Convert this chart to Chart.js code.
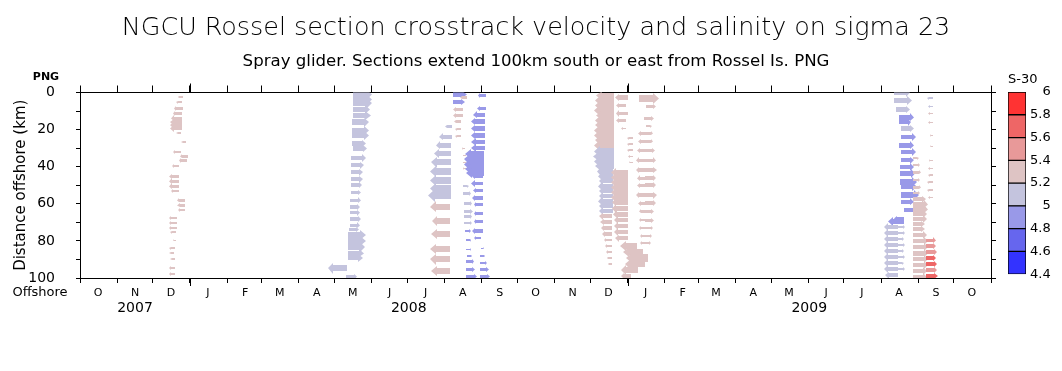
<!DOCTYPE html>
<html><head><meta charset="utf-8">
<script src="https://cdn.jsdelivr.net/npm/chart.js@4.4.1/dist/chart.umd.min.js"></script>
<style>
html,body{margin:0;padding:0;background:#fff;}
#wrap{position:relative;width:1062px;height:371px;overflow:hidden;}
#main{position:absolute;left:0;top:0;}
#cbar{position:absolute;left:1000px;top:66px;}
</style></head><body>
<div id="wrap"><canvas id="main" width="1062" height="371"></canvas><canvas id="cbar" width="62" height="220"></canvas></div>
<script>
// ---------------- DATA ----------------
// time axis: days since 2007-10-01 ; distance offshore in km ; crosstrack velocity in cm/s ; salinity as S-30
const TITLE = 'NGCU Rossel section crosstrack velocity and salinity on sigma 23';
const SUBTITLE = 'Spray glider. Sections extend 100km south or east from Rossel Is. PNG';
const Y_TITLE = 'Distance offshore (km)';
const Y_TOP_LABEL = 'PNG';
const Y_BOTTOM_LABEL = 'Offshore';
const CBAR_TITLE = 'S-30';
const MONTH_LABELS = ['O','N','D','J','F','M','A','M','J','J','A','S','O','N','D','J','F','M','A','M','J','J','A','S','O'];
const YEAR_LABELS = ['2007','2008','2009'];
const Y_TICKS = [0,10,20,30,40,50,60,70,80,90,100];
const CBAR_BOUNDS = [4.4,4.6,4.8,5.0,5.2,5.4,5.6,5.8,6.0];
const CBAR_COLORS = ['#3333ff','#6666ee','#9999e8','#c4c4de','#dec4c4','#e89999','#ee6666','#ff3333'];

// rows: [distance km, day, velocity cm/s (+ right / - left), S-30]
const sec2007Dec = [
 [2.5,85.9,-5,5.3],[5.2,85.3,-6,5.3],[8.4,85.9,-9,5.3],[11.3,85.1,-9,5.3],[14.0,85.1,-11,5.3],
 [16.1,85.3,-12,5.3],[17.7,85.3,-12,5.3],[19.4,85.3,-12,5.3],[21.9,84.5,-5,5.3],[26.7,88.7,-5,5.3],
 [32.1,84.5,-8,5.3],[34.4,90.1,-8,5.3],[36.6,89.5,-8,5.3],[39.8,83.1,-7,5.3],[45.2,82.8,-10,5.3],
 [47.8,82.8,-10,5.3],[50.5,82.8,-10,5.3],[53.2,82.8,-8,5.3],[58.1,87.8,-8,5.3],[60.8,88.1,-8,5.3],
 [63.4,87.8,-7,5.3],[67.7,81.1,-8,5.3],[70.4,81.1,-8,5.3],[73.1,81.1,-8,5.3],[75.3,80.3,-6,5.3],
 [79.6,80.3,-3,5.3],[83.9,79.5,-6,5.3],[86.6,78.9,-5,5.3],[89.8,79.5,-5,5.3],[94.6,79.5,-6,5.3],[97.8,79.5,-6,5.3]
];
const sec2008May = [
 [1.1,228.1,19,5.1],[3.8,228.1,19,5.1],[5.9,228.1,19,5.1],[9.1,228.1,17,5.1],[12.4,228.1,18,5.1],
 [16.0,227.3,17,5.1],[20.4,227.3,17,5.1],[23.1,227.3,17,5.1],[27.4,227.5,14,5.1],[30.1,228.1,14,5.1],
 [35.3,226.7,15,5.1],[39.2,226.7,13,5.1],[43.0,226.7,12,5.1],[46.8,226.7,12,5.1],[50.0,226.7,11,5.1],
 [53.8,226.7,10,5.1],[58.1,226.1,11,5.1],[61.7,226.1,10,5.1],[64.9,226.1,10,5.1],[68.3,226.1,11,5.1],
 [71.5,226.1,10,5.1],[73.7,225.0,10,5.1],[76.9,223.9,18,5.1],[80.1,223.9,18,5.1],[83.3,223.9,17,5.1],
 [86.6,223.9,16,5.1],[89.2,223.9,15,5.1],[94.8,223.0,-19,5.1],[99.3,222.5,11,5.1]
];
const sec2008Jul = [
 [18.3,310.8,-7,5.1],[23.9,310.8,-12.5,5.1],[28.5,310.3,-15,5.1],[32.8,310.3,-17,5.1],[37.6,310.3,-20,5.1],
 [42.5,310.3,-21,5.1],[47.6,310.3,-21,5.1],[51.6,310.3,-21,5.1],[55.4,310.3,-23,5.1],[61.6,309.5,-20,5.3],
 [69.1,309.5,-18,5.3],[76.3,309.5,-19,5.3],[84.4,309.5,-20,5.3],[89.8,309.5,-20,5.3],[96.2,309.5,-19,5.3],
 [1.1,311.7,14,4.9],[5.2,311.7,12,4.9],[2.7,323.7,-7,5.3],[9.1,320.4,-10,5.3],[12.4,320.4,-10,5.3],
 [15.6,318.7,-7,5.3],[19.9,318.7,-6,5.3],[23.7,318.7,-6,5.3]
];
const sec2008Aug1 = [
 [30.1,322.0,-3,5.3],[33.9,322.5,-3,5.3],[37.6,322.5,-3,5.3],[40.9,322.9,-3,5.3],
 [50.5,320.1,6,5.1],[54.5,320.6,8,5.1],[59.8,321.2,8,5.1],[64.2,321.2,9,5.1],[66.9,321.2,8,5.1],[70.4,321.2,8,5.1],
 [74.7,322.0,6,4.9],[79.6,322.9,5,4.9],[84.7,322.9,5,4.9],[88.2,323.7,5,4.9],[91.1,322.9,8,4.9],
 [95.2,322.9,9,4.9],[99.2,322.9,11,4.9]
];
const sec2008Aug2 = [
 [1.6,339.6,-8,4.9],[8.4,339.6,-9,4.9],[12.0,339.0,-12.5,4.9],[15.6,339.0,-14,4.9],[19.5,339.0,-14,4.9],
 [23.1,338.8,-14,4.9],[26.7,338.8,-13.5,4.9],[29.9,338.8,-13.5,4.9],[33.3,338.2,-19,4.9],[36.0,338.2,-20,4.9],
 [38.7,338.2,-20,4.9],[41.4,338.2,-19,4.9],[43.5,338.2,-18,4.9],[45.2,336.8,-11,4.9],[49.1,336.8,-11.5,4.9],
 [52.7,336.8,-10,4.9],[56.8,336.8,-10.5,4.9],[60.4,336.8,-9,4.9],[65.2,336.8,-9,4.9],[69.7,336.8,-9,4.9],
 [74.6,336.8,-11,4.9],[78.3,335.4,-7,4.9],[83.9,335.4,3,4.9],[88.2,334.8,5,4.9],[91.9,334.8,7,4.9],
 [95.5,334.8,8.5,4.9],[99.1,334.8,10,4.9]
];
const sec2008Dec1 = [
 [1.6,447.0,-18,5.3],[4.3,447.0,-19,5.3],[7.0,447.0,-19,5.3],[9.7,447.0,-20,5.3],[12.4,447.0,-18,5.3],
 [15.1,447.0,-19,5.3],[17.7,447.0,-19,5.3],[20.4,447.0,-20,5.3],[23.1,447.0,-20,5.3],[25.8,447.0,-19,5.3],
 [28.5,447.0,-20,5.3],[31.7,446.9,-20,5.1],[34.4,446.9,-21,5.1],[37.1,446.9,-20,5.1],[39.8,446.9,-19,5.1],
 [42.5,445.5,-16,5.1],[45.2,445.5,-15,5.1],[47.8,445.5,-14,5.1],[50.5,445.5,-15,5.1],[53.2,445.5,-14,5.1],
 [55.9,445.5,-14,5.1],[58.6,445.5,-15,5.1],[61.3,445.5,-14,5.1],[64.0,445.5,-14,5.1],
 [66.7,445.0,-13,5.3],[69.9,445.0,-12,5.3],[73.1,445.0,-11,5.3],[76.3,445.0,-10,5.3],[79.6,445.0,-8,5.3],
 [82.8,445.0,-7,5.3],[86.0,445.0,-6,5.3],[89.2,445.0,-5,5.3],[92.5,445.0,-4,5.3]
];
const sec2008Dec2 = [
 [2.7,458.1,-13,5.3],[7.0,457.1,-10,5.3],[11.3,458.1,-12,5.3],[15.1,457.1,-10,5.3],[19.4,457.1,-5,5.3],
 [24.7,462.6,-6,5.3],[28.0,462.6,-6,5.3],[31.2,462.6,-6,5.3],[34.4,462.6,-5,5.3],[37.6,462.6,-4,5.3],
 [43.0,458.1,-17,5.3],[45.7,458.1,-17,5.3],[48.4,458.1,-17,5.3],[51.1,458.1,-17,5.3],[53.8,458.1,-17,5.3],
 [56.5,458.1,-17,5.3],[59.1,458.1,-16,5.3],[62.4,458.1,-16,5.3],[65.6,458.1,-15,5.3],[68.8,458.1,-14,5.3],
 [72.0,458.1,-14,5.3],[75.3,458.1,-14,5.3],[78.5,458.1,-13,5.3],
 [82.8,466.3,-17,5.3],[86.0,471.0,-20,5.3],[89.2,475.1,-22,5.3],[92.5,472.6,-20,5.3],[95.7,467.1,-17,5.3],[98.9,461.2,-10,5.3]
];
const sec2008Dec3 = [
 [3.2,467.6,20,5.3],[7.5,473.4,10,5.3],[14.0,471.7,10,5.3],[18.3,473.4,6,5.3],
 [22.0,474.3,-9,5.3],[22.0,472.6,8,5.3],[26.3,474.3,-9,5.3],[26.3,472.6,8,5.3],
 [31.2,474.3,-10,5.3],[31.2,472.6,10,5.3],[36.6,474.3,-11,5.3],[36.6,472.6,11,5.3],
 [41.9,474.3,-11,5.3],[41.9,472.6,12,5.3],[46.2,474.3,-10,5.3],[46.2,472.6,11,5.3],
 [50.0,474.3,-10,5.3],[50.0,472.6,11,5.3],[55.4,474.3,-11,5.3],[55.4,472.6,12,5.3],
 [59.7,474.3,-9,5.3],[59.7,472.6,11,5.3],[64.0,474.3,-8,5.3],[64.0,472.6,9,5.3],
 [68.8,474.3,-8,5.3],[68.8,472.6,9,5.3],[73.1,474.3,-8,5.3],[73.1,472.6,8,5.3],
 [77.4,474.3,-7,5.3],[77.4,472.6,7,5.3],[81.2,474.3,-7,5.3],[81.2,472.6,6,5.3]
];
const sec2009Aug1 = [
 [0.2,681.1,16,5.1],[4.3,681.1,18,5.1],[9.1,682.6,14,5.1],[13.4,685.3,15,4.9],[16.1,685.3,12,4.9],
 [19.4,686.7,13,5.1],[24.0,686.7,15,4.9],[28.5,685.3,15,4.9],[32.1,686.7,15,4.9],[36.6,686.7,13,4.9],
 [40.2,686.2,14,4.9],[43.7,686.2,15,4.9],[48.2,686.2,17,4.9],[50.9,686.7,16,4.9],[55.4,686.7,18,4.9],
 [59.0,686.7,13,4.9],[63.4,689.5,12,4.9],[67.9,689.2,-10,4.9],[69.7,689.2,-16,4.9],
 [72.4,684.2,-14,5.1],[72.4,684.2,7,5.1],[75.8,684.2,-14,5.1],[75.8,684.2,7,5.1],
 [79.0,684.2,-14,5.1],[79.0,684.2,6,5.1],[82.3,684.2,-14,5.1],[82.3,684.2,7,5.1],
 [85.5,684.2,-14,5.1],[85.5,684.2,6,5.1],[88.7,684.2,-14,5.1],[88.7,684.2,7,5.1],
 [92.0,684.2,-14,5.1],[92.0,684.2,6,5.1],[95.2,684.2,-14,5.1],[95.2,684.2,7,5.1],[98.4,684.2,-13,5.1]
];
const sec2009Aug2 = [
 [35.5,696.8,6,5.3],[39.2,696.8,7,5.3],[43.0,696.8,8,5.3],[47.3,696.8,7,5.3],[51.1,696.8,8,5.3],[54.3,696.8,7,5.3],
 [57.5,696.8,13,5.3],[60.2,696.8,15,5.3],[62.9,696.8,15,5.3],[65.6,696.8,14,5.3],[68.3,696.8,14,5.3],
 [71.0,696.8,12,5.3],[73.7,696.8,12,5.3],[76.9,696.8,14,5.3],[80.1,696.8,15,5.3],[83.3,696.8,15,5.3],
 [86.6,696.8,15,5.3],[89.8,696.8,15,5.3],[93.0,696.8,15,5.3],[96.2,696.8,14,5.3],[99.5,696.8,14,5.3],
 [79.6,707.6,10,5.5],[82.8,707.6,10,5.5],[86.0,707.6,11,5.5],[89.2,707.6,10,5.7],[92.5,707.6,11,5.7],
 [95.7,707.6,11,5.5],[98.9,707.6,12,5.7]
];
const sec2009Aug3 = [
 [3.2,713.5,-6,5.1],[7.5,713.5,-5,5.1],[11.3,713.5,-5,5.3],[16.1,713.5,-5,5.3],[23.1,713.5,-3,5.3],
 [29.0,713.5,-3,5.3],[36.6,713.5,-4,5.3],[40.9,713.5,-5,5.3],[44.6,713.5,-5,5.3],[48.4,713.5,-6,5.3],
 [52.7,713.5,-6,5.3],[56.5,713.5,-5,5.3]
];
const SECTIONS = [sec2007Dec, sec2008May, sec2008Jul, sec2008Aug1, sec2008Aug2,
  sec2008Dec1, sec2008Dec2, sec2008Dec3, sec2009Aug1, sec2009Aug2, sec2009Aug3];

// ---------------- RENDERING ----------------
const ARROW_DAYS_PER_CMS = 0.84;  // quiver scale
const FONT = "'DejaVu Sans', sans-serif";
Chart.defaults.font.family = FONT;
Chart.defaults.color = '#000';

const T0 = Date.UTC(2007, 9, 1);
const dayOf = (y, m) => (Date.UTC(y, m, 1) - T0) / 864e5;
const X_MAX = dayOf(2009, 10);
const MONTH_STARTS = MONTH_LABELS.map((_, i) => dayOf(2007, 9 + i)).concat([X_MAX]);
const YEAR_STARTS = [dayOf(2008, 0), dayOf(2009, 0)];
const YEAR_CENTERS = [YEAR_STARTS[0] / 2, (YEAR_STARTS[0] + YEAR_STARTS[1]) / 2, (YEAR_STARTS[1] + X_MAX) / 2];

function salColor(s) {
  let k = Math.floor((s - CBAR_BOUNDS[0]) / 0.2);
  k = Math.max(0, Math.min(CBAR_COLORS.length - 1, k));
  return CBAR_COLORS[k];
}
function drawArrow(ctx, x0, y, x1) {
  const L = x1 - x0, a = Math.abs(L);
  if (a < 0.5) return;
  const dir = Math.sign(L);
  const sh = Math.max(0.6, 0.16 * a), hh = Math.max(1.2, 0.27 * a), hl = 0.3 * a;
  const xa = Math.round(x0), xe = Math.round(x1), xb = Math.round(x1 - dir * hl);
  let yt = Math.round(y - sh), yb = Math.round(y + sh);
  if (yb <= yt) yb = yt + 1;
  const ht = Math.round(y - hh), hb = Math.round(y + hh);
  ctx.beginPath();
  ctx.moveTo(xa, yt); ctx.lineTo(xb, yt); ctx.lineTo(xb, ht);
  ctx.lineTo(xe, (yt + yb) / 2); ctx.lineTo(xb, hb); ctx.lineTo(xb, yb); ctx.lineTo(xa, yb);
  ctx.closePath(); ctx.fill();
}
const arrowPlugin = {
  id: 'arrows',
  afterDatasetsDraw(chart) {
    const ctx = chart.ctx, xs = chart.scales.x, a = chart.chartArea;
    ctx.save();
    ctx.beginPath(); ctx.rect(a.left, a.top, a.right - a.left, a.bottom - a.top); ctx.clip();
    chart.data.datasets.forEach((ds, i) => {
      const meta = chart.getDatasetMeta(i);
      meta.data.forEach((el, j) => {
        const r = ds.data[j];
        ctx.fillStyle = salColor(r.s);
        drawArrow(ctx, el.x, el.y, xs.getPixelForValue(r.x + r.u * ARROW_DAYS_PER_CMS));
      });
    });
    ctx.restore();
  },
  afterDraw(chart) {
    const ctx = chart.ctx, xs = chart.scales.x, a = chart.chartArea;
    ctx.save();
    ctx.strokeStyle = '#000'; ctx.lineWidth = 1;
    YEAR_STARTS.forEach(d => {
      const px = Math.round(xs.getPixelForValue(d)) + 0.5;
      ctx.beginPath();
      ctx.moveTo(px, a.bottom); ctx.lineTo(px, a.bottom + 8);
      ctx.moveTo(px, a.top); ctx.lineTo(px, a.top - 9);
      ctx.stroke();
    });
    ctx.fillStyle = '#000'; ctx.textAlign = 'center'; ctx.textBaseline = 'middle';
    ctx.font = 'bold 11px ' + FONT;
    ctx.fillText(Y_TOP_LABEL, 46, a.top - 15);
    ctx.font = '13px ' + FONT;
    ctx.fillText(Y_BOTTOM_LABEL, 40, 293);
    ctx.restore();
  }
};

const monthTickAxis = {
  type: 'linear', min: 0, max: X_MAX,
  afterBuildTicks: s => { s.ticks = MONTH_STARTS.map(v => ({ value: v })); }
};
const yAxisBase = {
  type: 'linear', min: 0, max: 100, reverse: true,
  afterBuildTicks: s => { s.ticks = Y_TICKS.map(v => ({ value: v })); }
};

new Chart(document.getElementById('main'), {
  type: 'scatter',
  data: {
    datasets: SECTIONS.map(rows => ({
      data: rows.map(r => ({ x: r[1], y: r[0], u: r[2], s: r[3] })),
      pointRadius: 0, pointHoverRadius: 0, pointHitRadius: 0,
      xAxisID: 'x', yAxisID: 'y'
    }))
  },
  options: {
    responsive: false, animation: false, events: [],
    layout: { padding: { left: 10, right: 0, top: 0, bottom: 0 } },
    plugins: {
      legend: { display: false }, tooltip: { enabled: false },
      title: { display: true, text: TITLE, color: '#000', font: { size: 25.4, weight: 200 }, padding: { top: 13, bottom: 0 } },
      subtitle: { display: true, text: SUBTITLE, color: '#000', font: { size: 16.6, weight: 'normal' }, padding: { top: 8, bottom: 0 } }
    },
    scales: {
      x: Object.assign({}, monthTickAxis, {
        position: 'bottom', axis: 'x', weight: 0,
        ticks: { autoSkip: false, maxRotation: 0, minRotation: 0, padding: 4, labelOffset: 18,
                 font: { size: 11 }, callback: (v, i) => (MONTH_LABELS[i] !== undefined ? MONTH_LABELS[i] : '') },
        grid: { drawOnChartArea: false, drawTicks: true, tickLength: 5, color: '#000', tickColor: '#000' },
        border: { display: true, color: '#000', width: 1 },
        afterFit: s => { s.height = 21; }
      }),
      xy: {
        type: 'linear', position: 'bottom', axis: 'x', weight: 1, min: 0, max: X_MAX,
        afterBuildTicks: s => { s.ticks = YEAR_CENTERS.map(v => ({ value: v })); },
        ticks: { autoSkip: false, maxRotation: 0, minRotation: 0, padding: 1, font: { size: 14 },
                 callback: (v, i) => YEAR_LABELS[i] },
        grid: { display: false, drawTicks: false }, border: { display: false },
        afterFit: s => { s.height = 72; }
      },
      xt: Object.assign({}, monthTickAxis, {
        position: 'top', axis: 'x', weight: 0,
        ticks: { display: false },
        grid: { drawOnChartArea: false, drawTicks: true, tickLength: 7, color: '#000', tickColor: '#000' },
        border: { display: true, color: '#000', width: 1 },
        afterFit: s => { s.height = 21.1; }
      }),
      y: Object.assign({}, yAxisBase, {
        position: 'left', axis: 'y',
        ticks: { autoSkip: false, padding: 21, font: { size: 14 }, callback: v => (v % 20 === 0 ? String(v) : '') },
        grid: { drawOnChartArea: false, drawTicks: true, tickLength: 4, color: '#000', tickColor: '#000' },
        border: { display: true, color: '#000', width: 1 },
        title: { display: true, text: Y_TITLE, font: { size: 15 }, padding: { top: 2, bottom: 0 } },
        afterFit: s => { s.width = 70; }
      }),
      yr: Object.assign({}, yAxisBase, {
        position: 'right', axis: 'y',
        ticks: { display: false },
        grid: { drawOnChartArea: false, drawTicks: true, tickLength: 5, color: '#000', tickColor: '#000' },
        border: { display: true, color: '#000', width: 1 },
        afterFit: s => { s.width = 71; }
      })
    }
  },
  plugins: [arrowPlugin]
});

// ---------------- COLOUR BAR ----------------
// labels are padded with a figure space + punctuation space so whole numbers line up on the right
const cbarLabel = v => (Math.abs(v - Math.round(v)) < 1e-6 ? '\u2007\u2008' + Math.round(v) : v.toFixed(1));
new Chart(document.getElementById('cbar'), {
  type: 'bar',
  data: {
    labels: [CBAR_TITLE],
    datasets: CBAR_COLORS.map((c, i) => ({
      data: [[CBAR_BOUNDS[i], CBAR_BOUNDS[i + 1]]],
      backgroundColor: c, borderColor: '#000', borderWidth: 1, borderSkipped: false,
      barPercentage: 1, categoryPercentage: 1, grouped: false
    }))
  },
  options: {
    responsive: false, animation: false, events: [],
    layout: { padding: { left: 8, right: 0, top: 0, bottom: 8 } },
    plugins: {
      legend: { display: false }, tooltip: { enabled: false },
      title: { display: true, text: CBAR_TITLE, color: '#000', align: 'start', font: { size: 13, weight: 'normal' }, padding: { top: 6, bottom: 4.4 } }
    },
    scales: {
      x: { display: false },
      y: {
        position: 'right', min: 4.4, max: 6,
        afterBuildTicks: s => { s.ticks = CBAR_BOUNDS.map(v => ({ value: v })); },
        ticks: { autoSkip: false, padding: 4, crossAlign: 'near', font: { size: 13 }, callback: cbarLabel },
        grid: { display: false, drawTicks: false }, border: { display: false },
        afterFit: s => { s.width = 36; }
      }
    }
  }
});
</script></body></html>
